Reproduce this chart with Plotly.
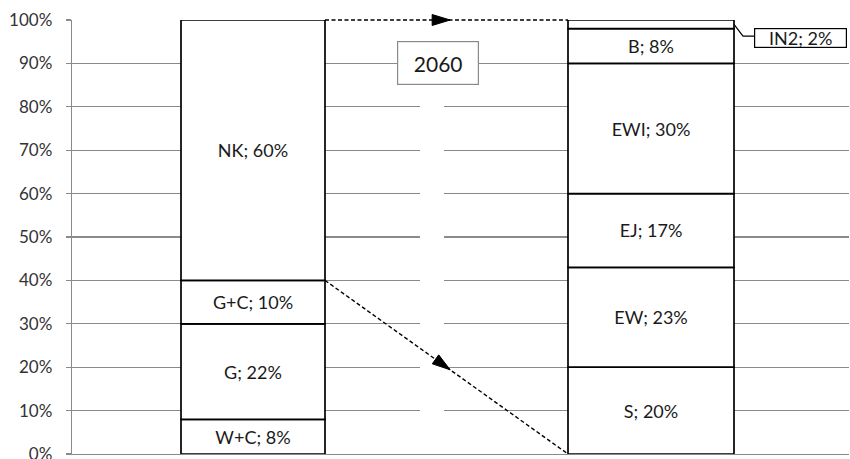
import math
import plotly.graph_objects as go

# ---- data ----
left_labels = ["W+C", "G", "G+C", "NK"]
left_values = [8, 22, 10, 60]
right_labels = ["S", "EW", "EJ", "EWI", "B", "IN2"]
right_values = [20, 23, 17, 30, 8, 2]
y_ticks = [0, 10, 20, 30, 40, 50, 60, 70, 80, 90, 100]
year_label = "2060"
outside_label_index = 5  # IN2 is labelled outside the bar

# ---- geometry (axis units) ----
X_LEFT, X_RIGHT = 0.0, 1.0
W_LEFT, W_RIGHT = 0.3618, 0.4171
X_RANGE = [-0.4548, 1.4975]
Y_RANGE = [0, 100]
FONT = "Lato, 'Open Sans', sans-serif"

PLOT_W, PLOT_H = 777, 434


def px_x(x):  # data x -> paper fraction
    return (x - X_RANGE[0]) / (X_RANGE[1] - X_RANGE[0])


def px_y(y):
    return (y - Y_RANGE[0]) / (Y_RANGE[1] - Y_RANGE[0])


def bases(vals):
    out, acc = [], 0
    for v in vals:
        out.append(acc)
        acc += v
    return out


fig = go.Figure()

left_text = [f"{l}; {v}%" for l, v in zip(left_labels, left_values)]
right_text = [f"{l}; {v}%" if i != outside_label_index else ""
              for i, (l, v) in enumerate(zip(right_labels, right_values))]

for xpos, w, vals, txt in [(X_LEFT, W_LEFT, left_values, left_text),
                           (X_RIGHT, W_RIGHT, right_values, right_text)]:
    fig.add_trace(go.Bar(
        x=[xpos] * len(vals), y=vals, base=bases(vals), width=[w] * len(vals),
        marker=dict(color="white", line=dict(color="black", width=1.7)),
        text=txt, textposition="inside", insidetextanchor="middle", textangle=0,
        textfont=dict(family=FONT, size=18, color="#1a1a1a"),
        hoverinfo="skip", showlegend=False, cliponaxis=False,
    ))

shapes = []
# white gap strip between the bars (above gridlines, below traces)
shapes.append(dict(type="rect", xref="x", yref="y", x0=0.4196, x1=0.4799, y0=0, y1=100,
                   fillcolor="white", line=dict(width=0), layer="between"))

# dashed connector lines
l_edge = X_LEFT + W_LEFT / 2
r_edge = X_RIGHT - W_RIGHT / 2
r_right_edge = X_RIGHT + W_RIGHT / 2
top = sum(left_values)
nk_base = bases(left_values)[3]
connectors = [((l_edge, top), (r_edge, sum(right_values))),
              ((l_edge, nk_base), (r_edge, 0))]

xu = PLOT_W / (X_RANGE[1] - X_RANGE[0])
yu = PLOT_H / (Y_RANGE[1] - Y_RANGE[0])

for (x0, y0), (x1, y1) in connectors:
    shapes.append(dict(type="line", xref="paper", yref="paper",
                       x0=px_x(x0), y0=px_y(y0), x1=px_x(x1), y1=px_y(y1),
                       line=dict(color="black", width=1.4, dash="4px,2.5px"), layer="above"))
    f = 0.515
    tx, ty = x0 + f * (x1 - x0), y0 + f * (y1 - y0)
    dx, dy = (x1 - x0) * xu, (y1 - y0) * yu
    n = math.hypot(dx, dy)
    ux, uy = dx / n, dy / n
    L, W = 18, 5.5
    bx, by = -L * ux, -L * uy
    pxv, pyv = -uy, ux
    p1 = (bx + W * pxv, by + W * pyv)
    p2 = (bx - W * pxv, by - W * pyv)
    path = f"M 0 0 L {p1[0]:.2f} {p1[1]:.2f} L {p2[0]:.2f} {p2[1]:.2f} Z"
    shapes.append(dict(type="path", xref="paper", yref="paper", xsizemode="pixel", ysizemode="pixel",
                       xanchor=px_x(tx), yanchor=px_y(ty), path=path, fillcolor="black",
                       line=dict(color="black", width=1), layer="above"))

# leader line for the IN2 label
in2_mid = bases(right_values)[outside_label_index] + right_values[outside_label_index] / 2
shapes.append(dict(type="path", xref="paper", yref="paper",
                   path=(f"M {px_x(r_right_edge):.5f} {px_y(in2_mid):.5f} "
                         f"L {px_x(1.2312):.5f} {px_y(96.3):.5f} L {px_x(1.2588):.5f} {px_y(96.3):.5f}"),
                   line=dict(color="black", width=1.2), layer="above"))

annotations = [
    dict(x=0.4648, y=90.1, xref="x", yref="y", text=year_label, showarrow=False,
         font=dict(family=FONT, size=21, color="#1a1a1a"),
         bgcolor="white", bordercolor="#8a8a8a", borderwidth=1.2, borderpad=0,
         width=80, height=42),
    dict(x=1.2588, y=95.85, xref="x", yref="y", xanchor="left", yanchor="middle",
         text=f"{right_labels[outside_label_index]}; {right_values[outside_label_index]}%",
         showarrow=False, font=dict(family=FONT, size=18, color="#1a1a1a"),
         bgcolor="white", bordercolor="black", borderwidth=1.2, borderpad=0,
         width=91, height=18),
]

fig.update_layout(
    width=850, height=459, autosize=False,
    margin=dict(l=72, r=1, t=20, b=5, pad=0, autoexpand=False),
    plot_bgcolor="white", paper_bgcolor="white",
    barmode="overlay", bargap=0,
    shapes=shapes, annotations=annotations,
    showlegend=False, hovermode=False,
    xaxis=dict(range=X_RANGE, showgrid=False, zeroline=False, showticklabels=False,
               showline=True, linecolor="#8a8a8a", linewidth=1.3, ticks="", automargin=False),
    yaxis=dict(range=Y_RANGE, tickvals=y_ticks, ticktext=[f"{t}%" for t in y_ticks],
               showgrid=True, gridcolor="#8a8a8a", gridwidth=1.3, zeroline=False,
               showline=True, linecolor="#8a8a8a", linewidth=1.3,
               ticks="outside", ticklen=5, tickcolor="#8a8a8a", tickwidth=1.3,
               ticklabelstandoff=10, ticklabeloverflow="allow", automargin=False,
               tickfont=dict(family=FONT, size=17, color="#333333")),
)

fig.write_html("out.html", post_script="document.body.style.margin='0';",
               config={"displayModeBar": False, "staticPlot": True})
